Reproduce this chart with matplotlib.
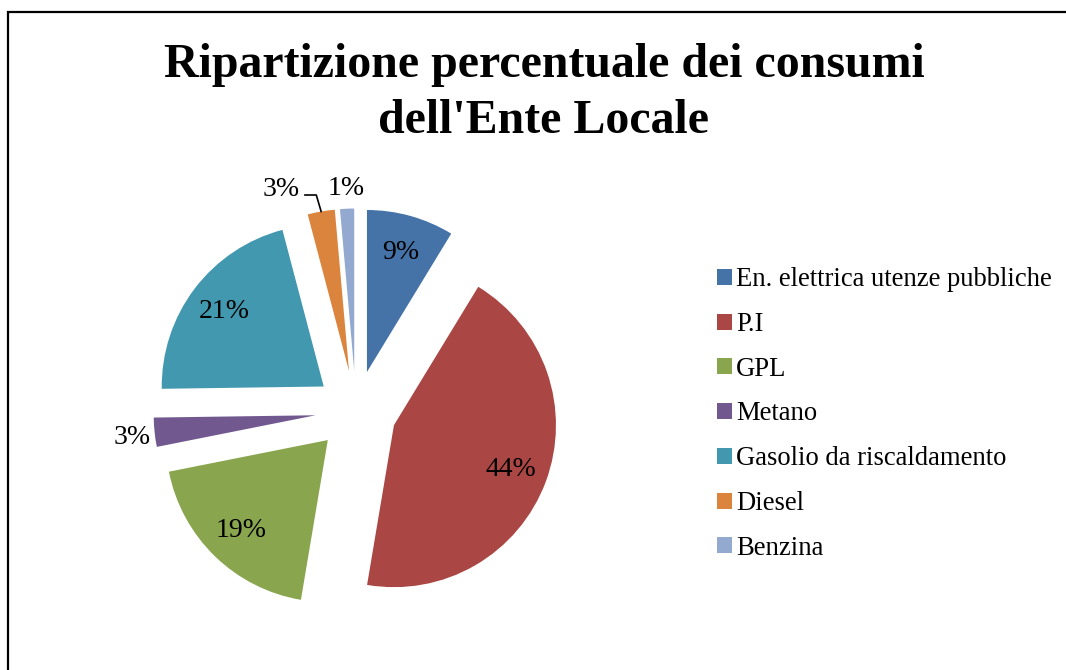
import numpy as np
import matplotlib
matplotlib.use("Agg")
import matplotlib.pyplot as plt
from matplotlib.patches import Rectangle

plt.rcParams['font.family'] = ['Liberation Serif', 'DejaVu Serif']

# Data
categories = ["En. elettrica utenze pubbliche", "P.I", "GPL", "Metano",
              "Gasolio da riscaldamento", "Diesel", "Benzina"]
values = [8.7, 43.9, 19.2, 2.9, 21.1, 2.7, 1.4]
colors = ["#4572A7", "#AA4643", "#89A54E", "#71588F", "#4198AF", "#DB843D", "#93A9CF"]
title = "Ripartizione percentuale dei consumi\ndell'Ente Locale"

W, H = 1066, 670
fig = plt.figure(figsize=(W / 100, H / 100), dpi=100)

# pie axes: centre at (356, 411) px, radius 162 px
cx, cy, rpx, half = 356, 411, 162, 240
ax = fig.add_axes([(cx - half) / W, (H - cy - half) / H, 2 * half / W, 2 * half / H])

explode = 0.25
wedges, _ = ax.pie(values, colors=colors, startangle=90, counterclock=False,
                   explode=[explode] * len(values), radius=1,
                   wedgeprops=dict(linewidth=0))
lim = half / rpx
ax.set_xlim(-lim, lim)
ax.set_ylim(-lim, lim)
ax.set_aspect('equal')
ax.axis('off')

total = sum(values)
lbl_fs = 20
for i, w in enumerate(wedges):
    theta = np.deg2rad((w.theta1 + w.theta2) / 2)
    ox, oy = w.center
    pct = values[i] / total * 100
    txt = f"{pct:.0f}%"
    if pct >= 5:
        d = 0.77
        ax.text(ox + d * np.cos(theta), oy + d * np.sin(theta) - 0.005, txt,
                ha='center', va='center', fontsize=lbl_fs)
    else:
        if categories[i] == "Diesel":
            th2 = theta + np.deg2rad(10.5)
            d = 1.21
            tx, ty = ox + d * np.cos(th2), oy + d * np.sin(th2) - 0.012
            ax.text(tx, ty, txt, ha='center', va='center', fontsize=lbl_fs)
            ex, ey = ox + 1.0 * np.cos(theta), oy + 1.0 * np.sin(theta)
            ly = ty - 0.035
            ax.plot([tx + 0.15, ex - 0.03, ex], [ly, ly, ey], color='black', lw=1.2)
        else:
            d = 1.14
            ax.text(ox + d * np.cos(theta), oy + d * np.sin(theta) - 0.015, txt,
                    ha='center', va='center', fontsize=lbl_fs)

# Legend
leg = fig.legend(wedges, categories, loc='center left',
                 bbox_to_anchor=(717 / W, 1 - 414 / H), frameon=False,
                 fontsize=19.2, handlelength=0.55, handleheight=0.55,
                 handletextpad=0.17, labelspacing=0.74, borderpad=0, borderaxespad=0)

# Title
fig.text(544 / W, 1 - 93 / H, title, ha='center', va='center', fontsize=34.5,
         fontweight='bold', linespacing=1.33)

# Frame
fig.patches.append(Rectangle((8 / W, -0.1), 1.2, 1 - 12 / H + 0.1, transform=fig.transFigure,
                             fill=False, edgecolor='black', linewidth=1.6))

fig.savefig("out.png", dpi=100)
